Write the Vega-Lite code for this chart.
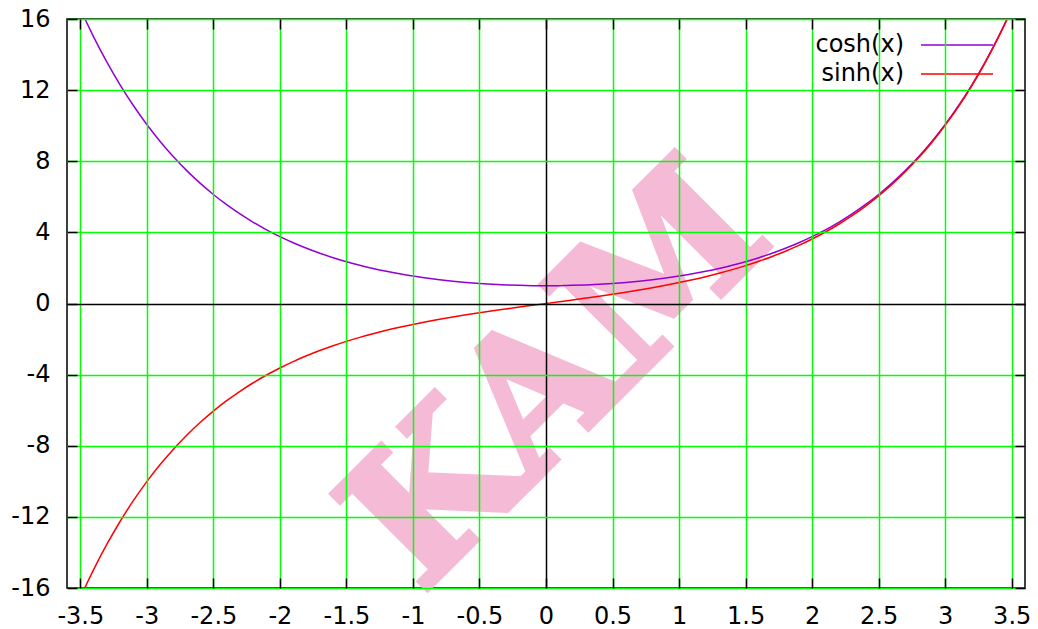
{
  "$schema": "https://vega.github.io/schema/vega-lite/v6.json",
  "width": 958,
  "height": 569,
  "autosize": {"type": "none"},
  "padding": {"left": 67, "top": 19, "right": 13, "bottom": 41},
  "background": "white",
  "config": {"view": {"stroke": "black", "strokeWidth": 1.5}, "font": "DejaVu Sans"},
  "data": {"values": [
    {"x":-3.6,"y":18.313,"series":"cosh(x)"},{"x":-3.5,"y":16.573,"series":"cosh(x)"},{"x":-3.4,"y":14.999,"series":"cosh(x)"},{"x":-3.3,"y":13.575,"series":"cosh(x)"},{"x":-3.2,"y":12.287,"series":"cosh(x)"},{"x":-3.1,"y":11.122,"series":"cosh(x)"},{"x":-3.0,"y":10.068,"series":"cosh(x)"},{"x":-2.9,"y":9.115,"series":"cosh(x)"},{"x":-2.8,"y":8.253,"series":"cosh(x)"},{"x":-2.7,"y":7.473,"series":"cosh(x)"},{"x":-2.6,"y":6.769,"series":"cosh(x)"},{"x":-2.5,"y":6.132,"series":"cosh(x)"},{"x":-2.4,"y":5.557,"series":"cosh(x)"},{"x":-2.3,"y":5.037,"series":"cosh(x)"},{"x":-2.2,"y":4.568,"series":"cosh(x)"},{"x":-2.1,"y":4.144,"series":"cosh(x)"},{"x":-2.0,"y":3.762,"series":"cosh(x)"},{"x":-1.9,"y":3.418,"series":"cosh(x)"},{"x":-1.8,"y":3.107,"series":"cosh(x)"},{"x":-1.7,"y":2.828,"series":"cosh(x)"},{"x":-1.6,"y":2.577,"series":"cosh(x)"},{"x":-1.5,"y":2.352,"series":"cosh(x)"},{"x":-1.4,"y":2.151,"series":"cosh(x)"},{"x":-1.3,"y":1.971,"series":"cosh(x)"},{"x":-1.2,"y":1.811,"series":"cosh(x)"},{"x":-1.1,"y":1.669,"series":"cosh(x)"},{"x":-1.0,"y":1.543,"series":"cosh(x)"},{"x":-0.9,"y":1.433,"series":"cosh(x)"},{"x":-0.8,"y":1.337,"series":"cosh(x)"},{"x":-0.7,"y":1.255,"series":"cosh(x)"},{"x":-0.6,"y":1.185,"series":"cosh(x)"},{"x":-0.5,"y":1.128,"series":"cosh(x)"},{"x":-0.4,"y":1.081,"series":"cosh(x)"},{"x":-0.3,"y":1.045,"series":"cosh(x)"},{"x":-0.2,"y":1.020,"series":"cosh(x)"},{"x":-0.1,"y":1.005,"series":"cosh(x)"},{"x":0,"y":1,"series":"cosh(x)"},{"x":0.1,"y":1.005,"series":"cosh(x)"},{"x":0.2,"y":1.020,"series":"cosh(x)"},{"x":0.3,"y":1.045,"series":"cosh(x)"},{"x":0.4,"y":1.081,"series":"cosh(x)"},{"x":0.5,"y":1.128,"series":"cosh(x)"},{"x":0.6,"y":1.185,"series":"cosh(x)"},{"x":0.7,"y":1.255,"series":"cosh(x)"},{"x":0.8,"y":1.337,"series":"cosh(x)"},{"x":0.9,"y":1.433,"series":"cosh(x)"},{"x":1.0,"y":1.543,"series":"cosh(x)"},{"x":1.1,"y":1.669,"series":"cosh(x)"},{"x":1.2,"y":1.811,"series":"cosh(x)"},{"x":1.3,"y":1.971,"series":"cosh(x)"},{"x":1.4,"y":2.151,"series":"cosh(x)"},{"x":1.5,"y":2.352,"series":"cosh(x)"},{"x":1.6,"y":2.577,"series":"cosh(x)"},{"x":1.7,"y":2.828,"series":"cosh(x)"},{"x":1.8,"y":3.107,"series":"cosh(x)"},{"x":1.9,"y":3.418,"series":"cosh(x)"},{"x":2.0,"y":3.762,"series":"cosh(x)"},{"x":2.1,"y":4.144,"series":"cosh(x)"},{"x":2.2,"y":4.568,"series":"cosh(x)"},{"x":2.3,"y":5.037,"series":"cosh(x)"},{"x":2.4,"y":5.557,"series":"cosh(x)"},{"x":2.5,"y":6.132,"series":"cosh(x)"},{"x":2.6,"y":6.769,"series":"cosh(x)"},{"x":2.7,"y":7.473,"series":"cosh(x)"},{"x":2.8,"y":8.253,"series":"cosh(x)"},{"x":2.9,"y":9.115,"series":"cosh(x)"},{"x":3.0,"y":10.068,"series":"cosh(x)"},{"x":3.1,"y":11.122,"series":"cosh(x)"},{"x":3.2,"y":12.287,"series":"cosh(x)"},{"x":3.3,"y":13.575,"series":"cosh(x)"},{"x":3.4,"y":14.999,"series":"cosh(x)"},{"x":3.5,"y":16.573,"series":"cosh(x)"},{"x":3.6,"y":18.313,"series":"cosh(x)"},
    {"x":-3.6,"y":-18.285,"series":"sinh(x)"},{"x":-3.5,"y":-16.543,"series":"sinh(x)"},{"x":-3.4,"y":-14.965,"series":"sinh(x)"},{"x":-3.3,"y":-13.538,"series":"sinh(x)"},{"x":-3.2,"y":-12.246,"series":"sinh(x)"},{"x":-3.1,"y":-11.076,"series":"sinh(x)"},{"x":-3.0,"y":-10.018,"series":"sinh(x)"},{"x":-2.9,"y":-9.060,"series":"sinh(x)"},{"x":-2.8,"y":-8.192,"series":"sinh(x)"},{"x":-2.7,"y":-7.406,"series":"sinh(x)"},{"x":-2.6,"y":-6.695,"series":"sinh(x)"},{"x":-2.5,"y":-6.050,"series":"sinh(x)"},{"x":-2.4,"y":-5.466,"series":"sinh(x)"},{"x":-2.3,"y":-4.937,"series":"sinh(x)"},{"x":-2.2,"y":-4.457,"series":"sinh(x)"},{"x":-2.1,"y":-4.022,"series":"sinh(x)"},{"x":-2.0,"y":-3.627,"series":"sinh(x)"},{"x":-1.9,"y":-3.268,"series":"sinh(x)"},{"x":-1.8,"y":-2.942,"series":"sinh(x)"},{"x":-1.7,"y":-2.646,"series":"sinh(x)"},{"x":-1.6,"y":-2.376,"series":"sinh(x)"},{"x":-1.5,"y":-2.129,"series":"sinh(x)"},{"x":-1.4,"y":-1.904,"series":"sinh(x)"},{"x":-1.3,"y":-1.698,"series":"sinh(x)"},{"x":-1.2,"y":-1.509,"series":"sinh(x)"},{"x":-1.1,"y":-1.336,"series":"sinh(x)"},{"x":-1.0,"y":-1.175,"series":"sinh(x)"},{"x":-0.9,"y":-1.027,"series":"sinh(x)"},{"x":-0.8,"y":-0.888,"series":"sinh(x)"},{"x":-0.7,"y":-0.759,"series":"sinh(x)"},{"x":-0.6,"y":-0.637,"series":"sinh(x)"},{"x":-0.5,"y":-0.521,"series":"sinh(x)"},{"x":-0.4,"y":-0.411,"series":"sinh(x)"},{"x":-0.3,"y":-0.305,"series":"sinh(x)"},{"x":-0.2,"y":-0.201,"series":"sinh(x)"},{"x":-0.1,"y":-0.100,"series":"sinh(x)"},{"x":0,"y":0,"series":"sinh(x)"},{"x":0.1,"y":0.100,"series":"sinh(x)"},{"x":0.2,"y":0.201,"series":"sinh(x)"},{"x":0.3,"y":0.305,"series":"sinh(x)"},{"x":0.4,"y":0.411,"series":"sinh(x)"},{"x":0.5,"y":0.521,"series":"sinh(x)"},{"x":0.6,"y":0.637,"series":"sinh(x)"},{"x":0.7,"y":0.759,"series":"sinh(x)"},{"x":0.8,"y":0.888,"series":"sinh(x)"},{"x":0.9,"y":1.027,"series":"sinh(x)"},{"x":1.0,"y":1.175,"series":"sinh(x)"},{"x":1.1,"y":1.336,"series":"sinh(x)"},{"x":1.2,"y":1.509,"series":"sinh(x)"},{"x":1.3,"y":1.698,"series":"sinh(x)"},{"x":1.4,"y":1.904,"series":"sinh(x)"},{"x":1.5,"y":2.129,"series":"sinh(x)"},{"x":1.6,"y":2.376,"series":"sinh(x)"},{"x":1.7,"y":2.646,"series":"sinh(x)"},{"x":1.8,"y":2.942,"series":"sinh(x)"},{"x":1.9,"y":3.268,"series":"sinh(x)"},{"x":2.0,"y":3.627,"series":"sinh(x)"},{"x":2.1,"y":4.022,"series":"sinh(x)"},{"x":2.2,"y":4.457,"series":"sinh(x)"},{"x":2.3,"y":4.937,"series":"sinh(x)"},{"x":2.4,"y":5.466,"series":"sinh(x)"},{"x":2.5,"y":6.050,"series":"sinh(x)"},{"x":2.6,"y":6.695,"series":"sinh(x)"},{"x":2.7,"y":7.406,"series":"sinh(x)"},{"x":2.8,"y":8.192,"series":"sinh(x)"},{"x":2.9,"y":9.060,"series":"sinh(x)"},{"x":3.0,"y":10.018,"series":"sinh(x)"},{"x":3.1,"y":11.076,"series":"sinh(x)"},{"x":3.2,"y":12.246,"series":"sinh(x)"},{"x":3.3,"y":13.538,"series":"sinh(x)"},{"x":3.4,"y":14.965,"series":"sinh(x)"},{"x":3.5,"y":16.543,"series":"sinh(x)"},{"x":3.6,"y":18.285,"series":"sinh(x)"}
  ]},
  "layer": [
    {
      "data": {"values": [{"label": "KAM"}]},
      "mark": {"type": "text", "font": "DejaVu Serif", "fontWeight": "bold", "fontSize": 185, "angle": 315, "color": "#f5bbd6", "stroke": "#f5bbd6", "strokeWidth": 6, "strokeJoin": "miter", "align": "center", "baseline": "middle"},
      "encoding": {
        "text": {"field": "label"},
        "x": {"datum": 0.1, "type": "quantitative", "axis": null},
        "y": {"datum": -4.2, "type": "quantitative", "axis": null}
      }
    },
    {
      "mark": {"type": "line", "clip": true, "strokeWidth": 1.5, "interpolate": "monotone"},
      "encoding": {
        "x": {"field": "x", "type": "quantitative", "scale": {"domain": [-3.6, 3.6], "nice": false, "zero": false},
          "axis": {"orient": "bottom", "values": [-3.5,-3,-2.5,-2,-1.5,-1,-0.5,0,0.5,1,1.5,2,2.5,3,3.5], "labelExpr": "datum.value + ''", "labelFontSize": 24, "labelFont": "DejaVu Sans", "labelColor": "black", "labelPadding": 26, "tickSize": -10, "tickColor": "black", "tickWidth": 1.5, "domain": false, "grid": true, "gridColor": {"condition": {"test": "datum.value === 0", "value": "black"}, "value": "#00ff00"}, "gridWidth": 1.5, "gridOpacity": 1, "title": null, "zindex": 1, "labelFlush": false, "labelOverlap": false}},
        "y": {"field": "y", "type": "quantitative", "scale": {"domain": [-16, 16], "nice": false, "zero": false},
          "axis": {"orient": "left", "values": [-16,-12,-8,-4,0,4,8,12,16], "labelExpr": "datum.value + ''", "labelFontSize": 24, "labelFont": "DejaVu Sans", "labelColor": "black", "labelPadding": 27, "tickSize": -10, "tickColor": "black", "tickWidth": 1.5, "domain": false, "grid": true, "gridColor": {"condition": {"test": "datum.value === 0", "value": "black"}, "value": "#00ff00"}, "gridWidth": 1.5, "gridOpacity": 1, "title": null, "zindex": 1, "labelFlush": false, "labelOverlap": false}},
        "color": {"field": "series", "type": "nominal",
          "scale": {"domain": ["cosh(x)", "sinh(x)"], "range": ["#9400d3", "#ff0000"]},
          "legend": {"orient": "none", "legendX": 878, "legendY": 14, "title": null, "symbolType": "M-6,0H6", "symbolSize": 144, "symbolStrokeWidth": 1.5, "symbolFillColor": "transparent", "labelAlign": "right", "labelOffset": -65, "labelFontSize": 24, "labelFont": "DejaVu Sans", "labelColor": "black", "rowPadding": 5, "padding": 0}}
      }
    },
    {
      "mark": {"type": "line", "opacity": 0},
      "encoding": {
        "x": {"field": "x", "type": "quantitative", "axis": {"orient": "top", "values": [-3.5,-3,-2.5,-2,-1.5,-1,-0.5,0,0.5,1,1.5,2,2.5,3,3.5], "labels": false, "tickSize": -10, "tickColor": "black", "tickWidth": 1.5, "domain": false, "grid": false, "title": null, "zindex": 1}},
        "y": {"field": "y", "type": "quantitative", "axis": {"orient": "right", "values": [-16,-12,-8,-4,0,4,8,12,16], "labels": false, "tickSize": -10, "tickColor": "black", "tickWidth": 1.5, "domain": false, "grid": false, "title": null, "zindex": 1}}
      }
    }
  ],
  "resolve": {"axis": {"x": "independent", "y": "independent"}}
}
